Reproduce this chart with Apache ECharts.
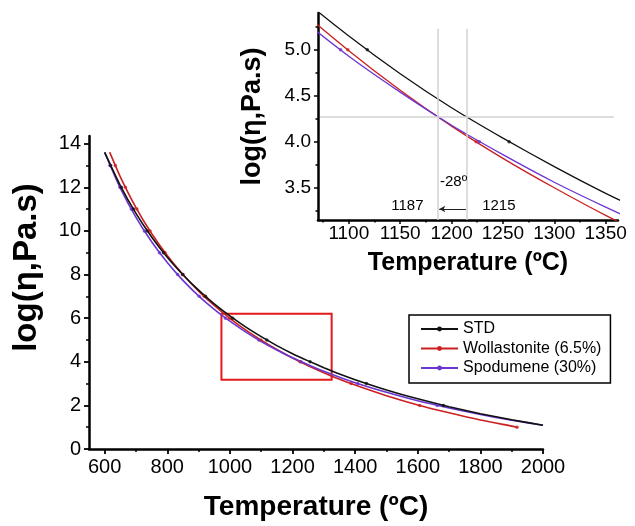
<!DOCTYPE html>
<html>
<head>
<meta charset="utf-8">
<script src="https://cdn.jsdelivr.net/npm/echarts@6/dist/echarts.min.js"></script>
<style>html,body{margin:0;padding:0;background:#fff}#c{width:635px;height:526px}</style>
</head>
<body>
<div id="c"></div>
<script>
// ---- data ----
const temps   = [600,650,700,750,800,850,900,950,1000,1050,1100,1150,1200,1250,1300,1350,1400,1500,1600,1700,1800,1900,2000];
const stdLog  = [13.60,12.08,10.80,9.72,8.79,7.99,7.28,6.65,6.10,5.60,5.15,4.74,4.37,4.04,3.73,3.44,3.18,2.71,2.30,1.94,1.62,1.34,1.09];
const spoLog  = [13.60,11.96,10.62,9.50,8.55,7.73,7.02,6.40,5.86,5.37,4.93,4.54,4.18,3.86,3.56,3.29,3.04,2.60,2.21,1.88,1.58,1.32,1.09];
const wolTemps = [616,650,700,750,800,850,900,950,1000,1050,1100,1150,1200,1250,1300,1350,1400,1500,1600,1700,1800,1900,1917];
const wolLog   = [13.61,12.48,11.07,9.88,8.87,8.00,7.24,6.58,5.99,5.46,4.99,4.56,4.17,3.82,3.50,3.20,2.93,2.44,2.02,1.66,1.33,1.05,1.00];
// measured points (dots) at whole log values
const ptsLog   = [13,12,11,10,9,8,7,6,5,4,3,2,1];
const stdPtsT  = [619,653,692,736,788,849,922,1009,1118,1256,1436,1682];
const wolPtsT  = [634,666,703,745,793,850,918,999,1099,1224,1387,1606,1917];
const spoPtsT  = [617,649,685,727,775,833,902,986,1092,1227,1408,1662];
// tick labels
const mainXTicks = [600,800,1000,1200,1400,1600,1800,2000];
const mainXMinor = [700,900,1100,1300,1500,1700,1900];
const mainYTicks = [0,2,4,6,8,10,12,14];
const mainYMinor = [1,3,5,7,9,11,13];
const insetXTicks = [1100,1150,1200,1250,1300,1350];
const insetXMinor = [1075,1125,1175,1225,1275,1325];
const insetYTicks = [3.5,4.0,4.5,5.0];
const insetYMinor = [3.25,3.75,4.25,4.75,5.25];
// annotation values
const isoLog = 4.27;
const tempShift = [1187, 1215];
const zoomBox = [[973, 6.2], [1325, 3.18]];

const names = ['STD', 'Wollastonite (6.5%)', 'Spodumene (30%)'];
const colors = ['#111111', '#cc2020', '#6a35d0'];
const FF = "'Liberation Sans', Arial, sans-serif";

const pair = (xs, ys) => xs.map((x, i) => [x, ys[i]]);
const ptPair = (xs) => xs.map((x, i) => [x, ptsLog[i]]);
const lineData = [pair(temps, stdLog), pair(wolTemps, wolLog), pair(temps, spoLog)];
const dotData = [ptPair(stdPtsT), ptPair(wolPtsT), ptPair(spoPtsT)];
const plain = v => String(v);

function mkAxis(o) {
  return Object.assign({
    type: 'value', splitLine: {show: false},
    axisLine: {show: true, onZero: false, lineStyle: {color: '#000', width: 2.5}},
    axisTick: {show: true, inside: false, lineStyle: {color: '#000', width: 1.8}},
    axisLabel: {color: '#000', fontFamily: FF}
  }, o);
}
function minorAxis(o, vals, len) {
  return Object.assign({
    type: 'value', splitLine: {show: false},
    axisLine: {show: false, onZero: false},
    axisTick: {show: true, customValues: vals, length: len, lineStyle: {color: '#000', width: 1.5}},
    axisLabel: {show: false}
  }, o);
}

const series = [];
const order = [1, 2, 0];
order.forEach(k => {
  series.push({
    name: names[k], type: 'line', xAxisIndex: 0, yAxisIndex: 0,
    data: lineData[k], smooth: 0.2, symbol: 'circle', symbolSize: 4, showSymbol: false,
    lineStyle: {color: colors[k], width: 1.6}, itemStyle: {color: colors[k]}, z: 3 + (k === 0 ? 2 : 0)
  });
  series.push({
    name: names[k], type: 'line', xAxisIndex: 2, yAxisIndex: 2,
    data: lineData[k], smooth: 0.2, symbol: 'circle', symbolSize: 4, showSymbol: false,
    lineStyle: {color: colors[k], width: 1.3}, itemStyle: {color: colors[k]}, z: 3
  });
  series.push({
    name: names[k] + ' pts', type: 'scatter', xAxisIndex: 0, yAxisIndex: 0,
    data: dotData[k], symbolSize: 3.5, itemStyle: {color: colors[k]}, z: 6
  });
  series.push({
    name: names[k] + ' pts', type: 'scatter', xAxisIndex: 2, yAxisIndex: 2,
    data: dotData[k], symbolSize: 3.5, itemStyle: {color: colors[k]}, z: 6, clip: true
  });
});

// red zoom rectangle on main plot
series.push({
  type: 'line', xAxisIndex: 0, yAxisIndex: 0, data: [], silent: true,
  markArea: {
    silent: true,
    itemStyle: {color: 'rgba(0,0,0,0)', borderColor: '#e3191c', borderWidth: 2},
    data: [[{coord: zoomBox[0]}, {coord: zoomBox[1]}]]
  }
});
// inset guide lines and annotations
series.push({
  type: 'line', xAxisIndex: 2, yAxisIndex: 2, data: [], silent: true, z: 1,
  markLine: {
    silent: true, symbol: 'none', animation: false,
    label: {show: false},
    lineStyle: {color: '#d2d2d2', width: 1.5, type: 'solid'},
    data: [
      [{coord: [tempShift[0], 3.15]}, {coord: [tempShift[0], 5.23]}],
      [{coord: [tempShift[1], 3.15]}, {coord: [tempShift[1], 5.23]}],
      [{coord: [1072, isoLog]}, {coord: [1358, isoLog]}],
      [{coord: [tempShift[1] - 1, 3.27], symbol: 'none'},
       {coord: [tempShift[0] + 1, 3.27], symbol: 'arrow', symbolSize: [5, 6],
        lineStyle: {color: '#222', width: 1}}]
    ]
  },
  markPoint: {
    silent: true, symbol: 'rect', symbolSize: 1, itemStyle: {color: 'rgba(0,0,0,0)'},
    label: {show: true, position: 'inside', color: '#000', fontSize: 15, fontFamily: FF, formatter: p => p.name},
    data: [
      {name: String(tempShift[0]), coord: [1157, 3.30]},
      {name: String(tempShift[1]), coord: [1246, 3.30]},
      {name: '-' + (tempShift[1] - tempShift[0]) + 'º', coord: [1202, 3.57]}
    ]
  }
});

const option = {
  backgroundColor: '#fff',
  animation: false,
  textStyle: {fontFamily: FF},
  legend: {
    orient: 'vertical', left: 409, top: 315, padding: [6, 9, 7, 11],
    borderColor: '#000', borderWidth: 1.5, backgroundColor: '#fff',
    itemWidth: 37, itemHeight: 6, itemGap: 3.5,
    textStyle: {fontSize: 16, color: '#000', fontFamily: FF},
    data: names
  },
  grid: [
    {left: 89, right: 92, top: 136, bottom: 75},
    {left: 318, right: 17, top: 13, bottom: 306}
  ],
  xAxis: [
    mkAxis({gridIndex: 0, position: 'bottom', min: 550, max: 2000,
      name: 'Temperature (ºC)', nameLocation: 'middle', nameGap: 44,
      nameTextStyle: {fontSize: 28, fontWeight: 'bold', color: '#000', fontFamily: FF},
      axisTick: {show: true, customValues: mainXTicks, length: 5, lineStyle: {color: '#000', width: 1.8}},
      axisLabel: {customValues: mainXTicks, fontSize: 20, color: '#000', margin: 8, fontFamily: FF, formatter: plain}}),
    minorAxis({gridIndex: 0, position: 'bottom', min: 550, max: 2000}, mainXMinor, 3),
    mkAxis({gridIndex: 1, position: 'bottom', min: 1070, max: 1362,
      name: 'Temperature (ºC)', nameLocation: 'middle', nameGap: 31,
      nameTextStyle: {fontSize: 25, fontWeight: 'bold', color: '#000', fontFamily: FF},
      axisTick: {show: true, customValues: insetXTicks, length: 4, lineStyle: {color: '#000', width: 1.5}},
      axisLabel: {customValues: insetXTicks, fontSize: 19, color: '#000', margin: 4, fontFamily: FF, formatter: plain}}),
    minorAxis({gridIndex: 1, position: 'bottom', min: 1070, max: 1362}, insetXMinor, 2.5)
  ],
  yAxis: [
    mkAxis({gridIndex: 0, position: 'left', min: 0, max: 14.35,
      name: 'log(η,Pa.s)', nameLocation: 'middle', nameGap: 46,
      nameTextStyle: {fontSize: 33, fontWeight: 'bold', color: '#000', fontFamily: FF, padding: [0, 0, 0, 50]},
      axisTick: {show: true, customValues: mainYTicks, length: 5, lineStyle: {color: '#000', width: 1.8}},
      axisLabel: {customValues: mainYTicks, fontSize: 20, color: '#000', margin: 8, fontFamily: FF, formatter: plain}}),
    minorAxis({gridIndex: 0, position: 'left', min: 0, max: 14.35}, mainYMinor, 3),
    mkAxis({gridIndex: 1, position: 'left', min: 3.15, max: 5.4,
      name: 'log(η,Pa.s)', nameLocation: 'middle', nameGap: 52,
      nameTextStyle: {fontSize: 27, fontWeight: 'bold', color: '#000', fontFamily: FF},
      axisTick: {show: true, customValues: insetYTicks, length: 4, lineStyle: {color: '#000', width: 1.5}},
      axisLabel: {customValues: insetYTicks, fontSize: 19, color: '#000', margin: 7, fontFamily: FF,
        formatter: v => v.toFixed(1)}}),
    minorAxis({gridIndex: 1, position: 'left', min: 3.15, max: 5.4}, insetYMinor, 2.5)
  ],
  series: series
};

const chart = echarts.init(document.getElementById('c'), null, {renderer: 'canvas'});
chart.setOption(option);
</script>
</body>
</html>
